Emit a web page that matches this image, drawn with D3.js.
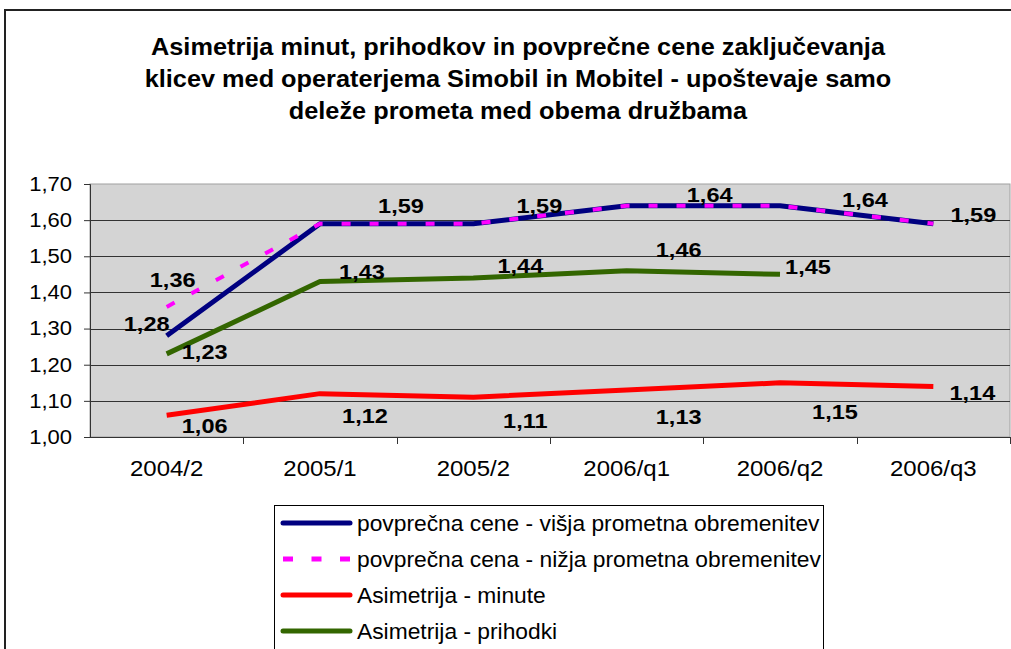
<!DOCTYPE html>
<html>
<head>
<meta charset="utf-8">
<script src="https://cdn.jsdelivr.net/npm/d3@7"></script>
<style>
  body { margin: 0; background: #fff; }
  svg { display: block; font-family: Arial, "Liberation Sans", sans-serif; }
</style>
</head>
<body>
<div id="chart"></div>
<script>
// Data
const categories = ["2004/2", "2005/1", "2005/2", "2006/q1", "2006/q2", "2006/q3"];
const visjaCena = [1.28, 1.59, 1.59, 1.64, 1.64, 1.59];
const nizjaCena = [1.36, 1.59, 1.59, 1.64, 1.64, 1.59];
const asimMinute = [1.06, 1.12, 1.11, 1.13, 1.15, 1.14];
const asimPrihodki = [1.23, 1.43, 1.44, 1.46, 1.45, null];
const yTicks = [1.0, 1.1, 1.2, 1.3, 1.4, 1.5, 1.6, 1.7];

const titleLines = [
    "Asimetrija minut, prihodkov in povprečne cene zaključevanja",
    "klicev med operaterjema Simobil in Mobitel - upoštevaje samo",
    "deleže prometa med obema družbama"
];

// label placement (pixel offsets from the point), null = no label
const visjaLabelOff = [[-20, -12], null, null, null, null, null];
const nizjaLabelOff = [[6, -27], [81, -18], [66, -18], [83, -11], [85, -6], [40, -9]];
const minuteLabelOff = [[38, 10], [45, 22], [52, 23], [52, 26], [55, 29], [39, 6]];
const prihodkiLabelOff = [[38, -2], [42, -10], [47, -13], [52, -21], [28, -8], null];

const series = [
    { name: "povprečna cene - višja prometna obremenitev", values: visjaCena, color: "#000080", width: 5, dash: null, labels: visjaLabelOff },
    { name: "povprečna cena - nižja prometna obremenitev", values: nizjaCena, color: "#ff00ff", width: 4, dash: "9,19", labels: nizjaLabelOff },
    { name: "Asimetrija - minute", values: asimMinute, color: "#ff0000", width: 5, dash: null, labels: minuteLabelOff },
    { name: "Asimetrija - prihodki", values: asimPrihodki, color: "#336600", width: 5, dash: null, labels: prihodkiLabelOff }
];
// draw order: green, red, blue, magenta on top
const drawOrder = [3, 2, 0, 1];

const W = 1011, H = 649;
const plot = { left: 90, right: 1010, top: 184, bottom: 437 };

// the original text is a bit wider than the font, stretch it horizontally
function stretch(sel, k) {
    sel.each(function () {
        const w = this.getComputedTextLength();
        d3.select(this)
            .attr("textLength", w * k)
            .attr("lengthAdjust", "spacingAndGlyphs");
    });
}

const svg = d3.select("#chart").append("svg")
    .attr("width", W)
    .attr("height", H);

// outer chart frame (runs off the page on the right and bottom)
svg.append("rect")
    .attr("x", 5).attr("y", 10)
    .attr("width", 1100).attr("height", 700)
    .attr("fill", "#fff")
    .attr("stroke", "#222")
    .attr("stroke-width", 2);

// title
svg.append("g").selectAll("text")
    .data(titleLines)
    .enter().append("text")
    .attr("x", 518)
    .attr("y", (d, i) => 55 + i * 32)
    .attr("text-anchor", "middle")
    .style("font-weight", "bold")
    .style("font-size", "23px")
    .text(d => d)
    .call(stretch, 1.1);

const x = d3.scaleBand().domain(categories).range([plot.left, plot.right]);
const y = d3.scaleLinear().domain([1.0, 1.7]).range([plot.bottom, plot.top]);
const cx = d => x(d) + x.bandwidth() / 2;
const fmt = v => d3.format(".2f")(v).replace(".", ",");

// plot background
svg.append("rect")
    .attr("x", plot.left).attr("y", plot.top)
    .attr("width", plot.right - plot.left)
    .attr("height", plot.bottom - plot.top)
    .attr("fill", "#d4d4d4")
    .attr("stroke", "#a0a0a0")
    .attr("stroke-width", 1);

// gridlines
svg.append("g").selectAll("line")
    .data(yTicks.slice(1, -1))
    .enter().append("line")
    .attr("x1", plot.left).attr("x2", plot.right)
    .attr("y1", d => Math.round(y(d)) + 0.5)
    .attr("y2", d => Math.round(y(d)) + 0.5)
    .attr("stroke", "#333")
    .attr("stroke-width", 1);

// Y axis
const yAxis = svg.append("g")
    .attr("transform", "translate(" + plot.left + ",0)")
    .call(d3.axisLeft(y).tickValues(yTicks).tickFormat(fmt).tickSize(6).tickPadding(12));
yAxis.select(".domain").attr("stroke", "#333");
yAxis.selectAll(".tick line").attr("stroke", "#333");
yAxis.selectAll("text")
    .style("font-size", "20px")
    .style("font-family", "Arial, 'Liberation Sans', sans-serif")
    .attr("fill", "#000")
    .call(stretch, 1.1);

// X axis with ticks between categories
const xAxis = svg.append("g")
    .attr("transform", "translate(0," + plot.bottom + ")");
xAxis.append("line")
    .attr("x1", plot.left).attr("x2", plot.right)
    .attr("y1", 0.5).attr("y2", 0.5)
    .attr("stroke", "#333");
xAxis.selectAll(".xt")
    .data(categories.slice(1).map(c => x(c)).concat([plot.right]))
    .enter().append("line")
    .attr("class", "xt")
    .attr("x1", d => Math.round(d) + 0.5).attr("x2", d => Math.round(d) + 0.5)
    .attr("y1", 0).attr("y2", 7)
    .attr("stroke", "#333");
xAxis.selectAll("text")
    .data(categories)
    .enter().append("text")
    .attr("x", d => cx(d))
    .attr("y", 39)
    .attr("text-anchor", "middle")
    .style("font-size", "22px")
    .text(d => d)
    .call(stretch, 1.09);

// lines
const line = d3.line()
    .defined(d => d.v != null)
    .x(d => cx(d.c))
    .y(d => y(d.v));

drawOrder.forEach(i => {
    const s = series[i];
    const pts = categories.map((c, k) => ({ c: c, v: s.values[k] }));
    svg.append("path")
        .datum(pts)
        .attr("d", line)
        .attr("fill", "none")
        .attr("stroke", s.color)
        .attr("stroke-width", s.width)
        .attr("stroke-linejoin", "round")
        .attr("stroke-dasharray", s.dash);
});

// data labels
series.forEach(s => {
    svg.append("g").selectAll("text")
        .data(categories.map((c, k) => ({ c: c, v: s.values[k], off: s.labels[k] }))
            .filter(d => d.v != null && d.off))
        .enter().append("text")
        .attr("x", d => cx(d.c) + d.off[0])
        .attr("y", d => y(d.v) + d.off[1])
        .attr("dy", "0.36em")
        .attr("text-anchor", "middle")
        .style("font-weight", "bold")
        .style("font-size", "21px")
        .text(d => fmt(d.v))
        .call(stretch, 1.12);
});

// legend
const legend = svg.append("g").attr("transform", "translate(274,505)");
legend.append("rect")
    .attr("x", 0.5).attr("y", 0.5)
    .attr("width", 549).attr("height", 200)
    .attr("fill", "#fff")
    .attr("stroke", "#000")
    .attr("stroke-width", 1);
const rows = legend.selectAll(".row")
    .data(series)
    .enter().append("g")
    .attr("class", "row")
    .attr("transform", (d, i) => "translate(0," + (18 + i * 36) + ")");
rows.append("line")
    .attr("x1", 9).attr("x2", 76)
    .attr("stroke", d => d.color)
    .attr("stroke-width", 5)
    .attr("stroke-linecap", d => d.dash ? "butt" : "round")
    .attr("stroke-dasharray", d => d.dash ? "10,18.5" : null);
rows.append("text")
    .attr("x", 83)
    .attr("dy", "0.36em")
    .style("font-size", "22.8px")
    .text(d => d.name);
</script>
</body>
</html>
